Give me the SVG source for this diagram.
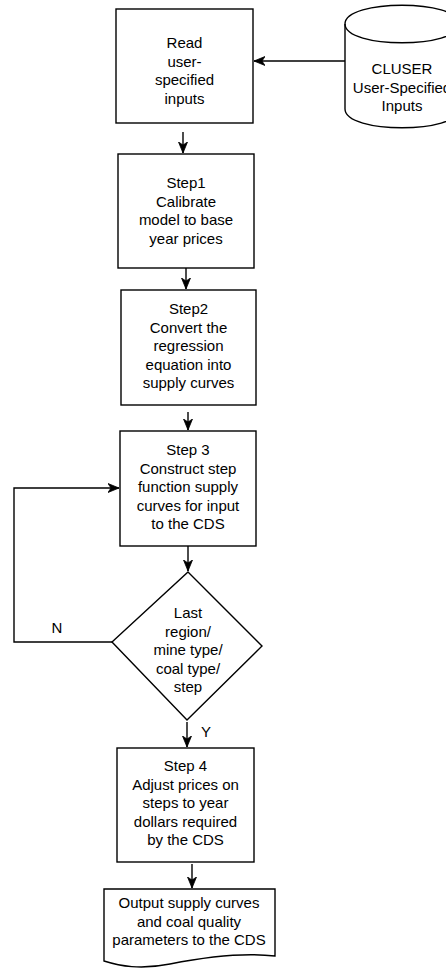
<svg xmlns="http://www.w3.org/2000/svg" width="446" height="968" viewBox="0 0 446 968">
<style>
  .box { fill: #ffffff; stroke: #000000; stroke-width: 1.4; }
  .edge { fill: none; stroke: #000000; stroke-width: 1.4; }
  text { font-family: "Liberation Sans", Arial, Helvetica, sans-serif; font-size: 15px; fill: #000000; text-anchor: middle; }
</style>
<defs>
  <marker id="arrow" markerUnits="userSpaceOnUse" markerWidth="12" markerHeight="10" viewBox="0 0 12 10" refX="11" refY="5" orient="auto">
    <path d="M0,0.5 L11,5 L0,9.5 L3,5 z" fill="#000000" stroke="#000000" stroke-width="0.8"/>
  </marker>
</defs>
<rect width="446" height="968" fill="#ffffff"/>
<g id="connectors">
  <line class="edge" x1="345" y1="61" x2="254" y2="61" marker-end="url(#arrow)"/>
  <line class="edge" x1="183" y1="132" x2="183" y2="153" marker-end="url(#arrow)"/>
  <line class="edge" x1="186" y1="268" x2="186" y2="289" marker-end="url(#arrow)"/>
  <line class="edge" x1="188" y1="412" x2="188" y2="430" marker-end="url(#arrow)"/>
  <line class="edge" x1="188" y1="546" x2="188" y2="571" marker-end="url(#arrow)"/>
  <line class="edge" x1="187" y1="722" x2="187" y2="747" marker-end="url(#arrow)"/>
  <line class="edge" x1="192" y1="864" x2="192" y2="888" marker-end="url(#arrow)"/>
  <polyline class="edge" points="112,642 14,642 14,488 119,488" marker-end="url(#arrow)"/>
  <text x="57" y="633">N</text>
  <text x="206" y="737">Y</text>
</g>
<g id="read-inputs">
  <rect class="box" x="116" y="9" width="137" height="114"/>
  <text x="184.5" y="48">Read</text>
  <text x="184.5" y="66.5">user-</text>
  <text x="184.5" y="85">specified</text>
  <text x="184.5" y="103.5">inputs</text>
</g>
<g id="cluser-db">
  <path class="box" d="M345,24 C345,-1 459,-1 459,24 L459,109 C459,134 345,134 345,109 Z"/>
  <path class="edge" d="M345,24 C345,49 459,49 459,24"/>
  <text x="402" y="74">CLUSER</text>
  <text x="402" y="92.5">User-Specified</text>
  <text x="402" y="111">Inputs</text>
</g>
<g id="step1">
  <rect class="box" x="118" y="154" width="136" height="114"/>
  <text x="186" y="188">Step1</text>
  <text x="186" y="206.5">Calibrate</text>
  <text x="186" y="225">model to base</text>
  <text x="186" y="243.5">year prices</text>
</g>
<g id="step2">
  <rect class="box" x="121" y="290" width="135" height="115"/>
  <text x="188.5" y="314">Step2</text>
  <text x="188.5" y="332.5">Convert the</text>
  <text x="188.5" y="351">regression</text>
  <text x="188.5" y="369.5">equation into</text>
  <text x="188.5" y="388">supply curves</text>
</g>
<g id="step3">
  <rect class="box" x="120" y="431" width="136" height="115"/>
  <text x="188" y="455">Step 3</text>
  <text x="188" y="473.5">Construct step</text>
  <text x="188" y="492">function supply</text>
  <text x="188" y="510.5">curves for input</text>
  <text x="188" y="529">to the CDS</text>
</g>
<g id="decision">
  <polygon class="box" points="188,572 262,646 187,720 112,642"/>
  <text x="188" y="618">Last</text>
  <text x="188" y="636.5">region/</text>
  <text x="188" y="655">mine type/</text>
  <text x="188" y="673.5">coal type/</text>
  <text x="188" y="692">step</text>
</g>
<g id="step4">
  <rect class="box" x="117" y="748" width="137" height="114"/>
  <text x="185.5" y="771">Step 4</text>
  <text x="185.5" y="789.5">Adjust prices on</text>
  <text x="185.5" y="808">steps to year</text>
  <text x="185.5" y="826.5">dollars required</text>
  <text x="185.5" y="845">by the CDS</text>
</g>
<g id="output">
  <path class="box" d="M104,889 L275,889 L275,956 C240,952 200,958 170,964 C140,970 120,966 104,961 Z"/>
  <text x="189" y="908">Output supply curves</text>
  <text x="189" y="926.5">and coal quality</text>
  <text x="189" y="945">parameters to the CDS</text>
</g>
</svg>
